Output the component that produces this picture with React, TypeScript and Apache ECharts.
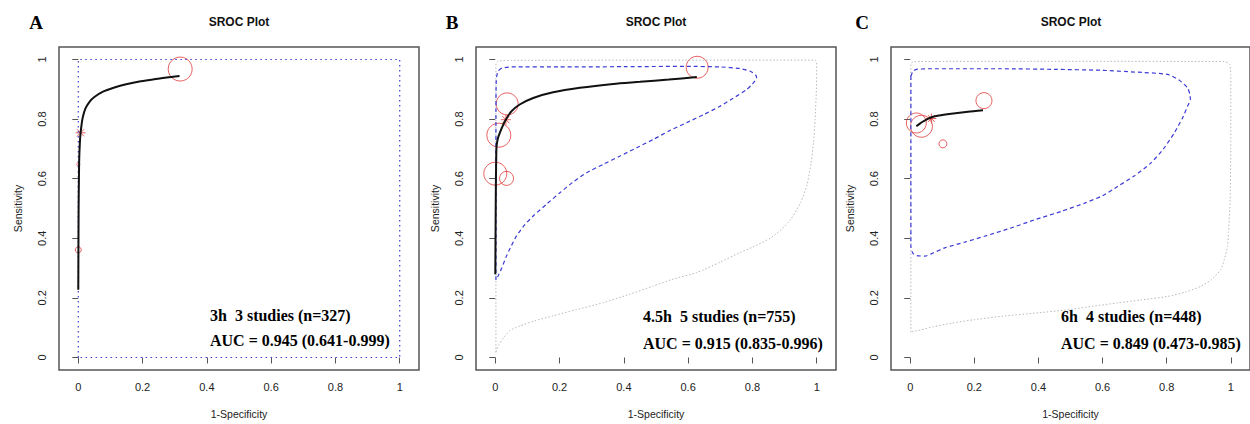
import React, { useEffect, useRef } from "react";
import * as echarts from "echarts";

// ---------- texts ----------
const panelLetters = ["A", "B", "C"];
const panelTitle = "SROC Plot";
const xAxisTitle = "1-Specificity";
const yAxisTitle = "Sensitivity";
const tickValues = [0, 0.2, 0.4, 0.6, 0.8, 1];
const annotationLine1 = ["3h  3 studies (n=327)", "4.5h  5 studies (n=755)", "6h  4 studies (n=448)"];
const annotationLine2 = ["AUC = 0.945 (0.641-0.999)", "AUC = 0.915 (0.835-0.996)", "AUC = 0.849 (0.473-0.985)"];

// ---------- panel A (3h) ----------
const curveA = [
  [0, 0.227], [0.001, 0.5], [0.002, 0.6], [0.003, 0.67], [0.006, 0.74], [0.01, 0.78],
  [0.014, 0.806], [0.022, 0.835], [0.035, 0.858], [0.05, 0.874], [0.077, 0.892],
  [0.11, 0.905], [0.149, 0.917], [0.19, 0.926], [0.232, 0.933], [0.275, 0.94], [0.315, 0.945],
];
const studiesA = [[0.317, 0.968, 24], [0, 0.361, 6], [0, 0.648, 3]];
const summaryA = [[0.007, 0.754]];
const confidenceA = [[0, 0], [0, 1], [1, 1], [1, 0], [0, 0]];

// ---------- panel B (4.5h) ----------
const curveB = [
  [0, 0.279], [0.001, 0.45], [0.002, 0.6], [0.003, 0.675], [0.004, 0.709], [0.008, 0.735],
  [0.014, 0.754], [0.03, 0.793], [0.05, 0.826], [0.076, 0.849], [0.118, 0.871],
  [0.18, 0.89], [0.263, 0.905], [0.367, 0.918], [0.45, 0.925], [0.54, 0.933], [0.627, 0.941],
];
const studiesB = [[0.628, 0.974, 22], [0.037, 0.851, 22], [0.011, 0.746, 24], [0, 0.617, 23], [0.035, 0.601, 14]];
const summaryB = [[0.033, 0.798]];
const confidenceB = [
  [0.002, 0.26], [0.002, 0.5], [0.002, 0.8], [0.003, 0.93], [0.008, 0.96], [0.02, 0.971],
  [0.05, 0.975], [0.2, 0.975], [0.4, 0.976], [0.6, 0.977], [0.7, 0.975], [0.76, 0.97],
  [0.795, 0.96], [0.81, 0.948], [0.813, 0.938], [0.8, 0.918], [0.782, 0.899], [0.74, 0.87],
  [0.699, 0.843], [0.65, 0.816], [0.595, 0.788], [0.54, 0.76], [0.492, 0.732], [0.44, 0.704],
  [0.388, 0.676], [0.335, 0.648], [0.284, 0.62], [0.24, 0.587], [0.201, 0.553], [0.16, 0.515],
  [0.118, 0.475], [0.09, 0.443], [0.066, 0.408], [0.05, 0.375], [0.035, 0.341], [0.02, 0.3],
  [0.009, 0.274], [0.002, 0.26],
];
const predictionB = [
  [0.002, 0.017], [0.002, 0.5], [0.002, 0.985], [0.01, 0.995], [0.05, 0.997], [0.5, 0.998],
  [0.995, 0.998], [1.0, 0.99], [0.999, 0.9], [0.995, 0.8], [0.99, 0.72], [0.982, 0.65],
  [0.97, 0.58], [0.95, 0.52], [0.92, 0.465], [0.89, 0.43], [0.855, 0.4], [0.8, 0.37],
  [0.761, 0.352], [0.7, 0.32], [0.627, 0.285], [0.55, 0.262], [0.492, 0.24], [0.42, 0.213],
  [0.336, 0.184], [0.25, 0.16], [0.18, 0.14], [0.12, 0.122], [0.077, 0.106], [0.045, 0.09],
  [0.025, 0.065], [0.01, 0.04], [0.002, 0.017],
];

// ---------- panel C (6h) ----------
const curveC = [
  [0.019, 0.776], [0.03, 0.785], [0.04, 0.792], [0.053, 0.8], [0.066, 0.806], [0.09, 0.812],
  [0.128, 0.818], [0.18, 0.825], [0.227, 0.83],
];
const studiesC = [[0.23, 0.862, 16], [0.019, 0.787, 20], [0.035, 0.776, 22], [0.102, 0.717, 8]];
const summaryC = [[0.066, 0.802]];
const confidenceC = [
  [0.002, 0.944], [0.002, 0.7], [0.002, 0.5], [0.002, 0.373], [0.008, 0.35], [0.02, 0.342],
  [0.046, 0.34], [0.07, 0.35], [0.108, 0.368], [0.17, 0.387], [0.232, 0.407], [0.31, 0.433],
  [0.388, 0.462], [0.47, 0.49], [0.544, 0.518], [0.6, 0.543], [0.647, 0.574], [0.7, 0.61],
  [0.751, 0.653], [0.79, 0.7], [0.824, 0.754], [0.85, 0.805], [0.865, 0.843], [0.874, 0.866],
  [0.872, 0.885], [0.865, 0.905], [0.84, 0.93], [0.803, 0.95], [0.7, 0.958], [0.595, 0.964],
  [0.45, 0.967], [0.284, 0.969], [0.15, 0.969], [0.056, 0.969], [0.02, 0.967], [0.009, 0.961],
  [0.002, 0.944],
];
const predictionC = [
  [0.002, 0.085], [0.002, 0.5], [0.002, 0.985], [0.01, 0.993], [0.5, 0.994], [0.98, 0.993],
  [0.997, 0.983], [1.0, 0.95], [1.0, 0.7], [0.998, 0.53], [0.993, 0.42], [0.99, 0.373],
  [0.98, 0.33], [0.969, 0.295], [0.94, 0.262], [0.907, 0.239], [0.86, 0.22], [0.803, 0.205],
  [0.72, 0.193], [0.647, 0.183], [0.57, 0.172], [0.492, 0.16], [0.4, 0.15], [0.284, 0.138],
  [0.2, 0.127], [0.129, 0.115], [0.07, 0.103], [0.035, 0.093], [0.01, 0.088], [0.002, 0.085],
];

// ---------- layout / style ----------
const GRID_LEFT = [59, 476, 891];
const GRID_TOP = 47;
const GRID_W = 360;
const GRID_H = 323;
const LETTER_X = [36, 452, 862];
const ANNOT_X = [210, 643, 1061];
const ANNOT_Y1 = [315, 316, 316];
const ANNOT_Y2 = [340, 343, 343];

const SERIF = '"Liberation Serif", "Times New Roman", serif';
const SANS = '"Liberation Sans", Arial, sans-serif';
const RED = "#e23a3a";
const BLUE = "#3b3bd6";
const GRAY = "#b8b8b8";
const ASTERISK = "path://M10,0 L10,20 M0,10 L20,10 M3,3 L17,17 M3,17 L17,3";

const panels = [
  { curve: curveA, studies: studiesA, summary: summaryA, confidence: confidenceA, confDotted: true, prediction: null },
  { curve: curveB, studies: studiesB, summary: summaryB, confidence: confidenceB, confDotted: false, prediction: predictionB },
  { curve: curveC, studies: studiesC, summary: summaryC, confidence: confidenceC, confDotted: false, prediction: predictionC },
];

export default function App() {
  const ref = useRef<HTMLDivElement>(null);

  useEffect(() => {
    document.body.style.margin = "0";
    if (!ref.current) return;
    const chart = echarts.init(ref.current, undefined, { renderer: "svg" });

    const grid: any[] = [];
    const xAxis: any[] = [];
    const yAxis: any[] = [];
    const series: any[] = [];
    const graphic: any[] = [];

    panels.forEach((p, i) => {
      grid.push({
        left: GRID_LEFT[i], top: GRID_TOP, width: GRID_W, height: GRID_H,
        show: true, borderColor: "#555", borderWidth: 1.5, backgroundColor: "transparent",
      });
      xAxis.push({
        type: "value", gridIndex: i, min: -0.06, max: 1.06,
        axisLine: { show: false },
        axisTick: { show: true, customValues: tickValues, length: 6, lineStyle: { color: "#555", width: 1 } },
        axisLabel: { customValues: tickValues, fontSize: 11, color: "#222", margin: 11, fontFamily: SANS },
        splitLine: { show: false },
        name: xAxisTitle, nameLocation: "middle", nameGap: 38,
        nameTextStyle: { fontSize: 10.5, color: "#222", fontFamily: SANS },
      });
      yAxis.push({
        type: "value", gridIndex: i, min: -0.042, max: 1.042,
        axisLine: { show: false },
        axisTick: { show: true, customValues: tickValues, length: 6, lineStyle: { color: "#555", width: 1 } },
        axisLabel: { customValues: tickValues, fontSize: 11, color: "#222", margin: 12, rotate: 90, fontFamily: SANS },
        splitLine: { show: false },
        name: yAxisTitle, nameLocation: "middle", nameGap: 36,
        nameTextStyle: { fontSize: 10.5, color: "#222", fontFamily: SANS },
      });

      if (p.prediction) {
        series.push({
          type: "line", xAxisIndex: i, yAxisIndex: i, data: p.prediction, symbol: "none",
          smooth: 0.2, silent: true,
          lineStyle: { color: GRAY, width: 1, type: [1.5, 2] },
        });
      }
      series.push({
        type: "line", xAxisIndex: i, yAxisIndex: i, data: p.confidence, symbol: "none",
        smooth: p.confDotted ? false : 0.2, silent: true,
        lineStyle: p.confDotted
          ? { color: BLUE, width: 1.2, type: [1.5, 3.5] }
          : { color: BLUE, width: 1.2, type: [4, 3] },
      });
      series.push({
        type: "line", xAxisIndex: i, yAxisIndex: i, data: p.curve, symbol: "none",
        smooth: 0.25, silent: true,
        lineStyle: { color: "#111", width: 2 },
      });
      series.push({
        type: "scatter", xAxisIndex: i, yAxisIndex: i, data: p.studies, silent: true,
        symbol: "circle", symbolSize: (v: number[]) => v[2],
        itemStyle: { color: "transparent", borderColor: RED, borderWidth: 1 },
      });
      series.push({
        type: "scatter", xAxisIndex: i, yAxisIndex: i, data: p.summary, silent: true,
        symbol: ASTERISK, symbolSize: 10,
        itemStyle: { color: "transparent", borderColor: RED, borderWidth: 1 },
      });

      const cx = GRID_LEFT[i] + GRID_W / 2;
      graphic.push({
        type: "text", x: LETTER_X[i], y: 22, silent: true,
        style: { text: panelLetters[i], fontSize: 19, fontWeight: "bold", fontFamily: SERIF, fill: "#000",
          textAlign: "center", textVerticalAlign: "middle", align: "center", verticalAlign: "middle" },
      });
      graphic.push({
        type: "text", x: cx, y: 22, silent: true,
        style: { text: panelTitle, fontSize: 12, fontWeight: "bold", fontFamily: SANS, fill: "#111",
          textAlign: "center", textVerticalAlign: "middle", align: "center", verticalAlign: "middle" },
      });
      graphic.push({
        type: "text", x: ANNOT_X[i], y: ANNOT_Y1[i], silent: true,
        style: { text: annotationLine1[i], fontSize: 16, fontWeight: "bold", fontFamily: SERIF, fill: "#000",
          textAlign: "left", textVerticalAlign: "middle", align: "left", verticalAlign: "middle" },
      });
      graphic.push({
        type: "text", x: ANNOT_X[i], y: ANNOT_Y2[i], silent: true,
        style: { text: annotationLine2[i], fontSize: 16, fontWeight: "bold", fontFamily: SERIF, fill: "#000",
          textAlign: "left", textVerticalAlign: "middle", align: "left", verticalAlign: "middle" },
      });
    });

    chart.setOption({
      animation: false,
      backgroundColor: "#fff",
      grid, xAxis, yAxis, series, graphic,
    });

    return () => chart.dispose();
  }, []);

  return <div ref={ref} style={{ width: 1250, height: 424, position: "fixed", left: 0, top: 0 }} />;
}
